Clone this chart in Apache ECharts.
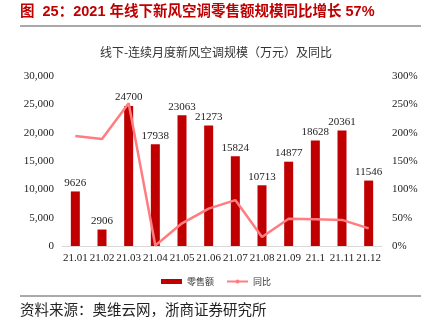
<!DOCTYPE html>
<html>
<head>
<meta charset="utf-8">
<script src="https://cdn.jsdelivr.net/npm/echarts@6/dist/echarts.min.js"></script>
<style>
html,body{margin:0;padding:0;background:#fff;}
#c{width:432px;height:327px;}
</style>
</head>
<body>
<div id="c"></div>
<script>
var categories = ['21.01','21.02','21.03','21.04','21.05','21.06','21.07','21.08','21.09','21.1','21.11','21.12'];
var salesValues = [9626, 2906, 24700, 17938, 23063, 21273, 15824, 10713, 14877, 18628, 20361, 11546];
var yoyValues = [194, 189, 252, 1, 40, 66, 81, 16, 48, 47, 46, 31];
var leftTicks = {min: 0, max: 30000, interval: 5000};
var rightTicks = {min: 0, max: 300, interval: 50};

var serif = '"Liberation Serif", "Times New Roman", serif';
var cjk = '"Noto Sans CJK SC", sans-serif';

var chart = echarts.init(document.getElementById('c'), null, {renderer: 'canvas'});
chart.setOption({
  animation: false,
  backgroundColor: '#fff',
  graphic: [
    {type: 'text', left: 20, top: 5, style: {text: '图  25：2021 年线下新风空调零售额规模同比增长 57%', fill: '#C00000', font: 'bold 14.5px "Liberation Sans", "Noto Sans CJK SC", sans-serif'}},
    {type: 'line', shape: {x1: 20, y1: 26, x2: 421, y2: 26}, style: {stroke: '#555', lineWidth: 1}},
    {type: 'text', left: 'center', top: 46, style: {text: '线下-连续月度新风空调规模（万元）及同比', fill: '#333', font: '12px ' + cjk}},
    {type: 'line', shape: {x1: 20, y1: 296, x2: 421, y2: 296}, style: {stroke: '#555', lineWidth: 1}},
    {type: 'text', left: 20, top: 302, style: {text: '资料来源：奥维云网，浙商证券研究所', fill: '#222', font: '14.5px ' + cjk}}
  ],
  legend: {
    left: 'center',
    top: 272,
    itemWidth: 21,
    itemHeight: 5,
    itemGap: 12,
    textStyle: {fontSize: 9, color: '#333', fontFamily: cjk},
    data: [
      {name: '零售额', icon: 'rect'},
      {name: '同比'}
    ]
  },
  grid: {left: 62, right: 50, top: 76, bottom: 81},
  xAxis: {
    type: 'category',
    data: categories,
    axisLine: {lineStyle: {color: '#d9d9d9'}},
    axisTick: {show: false},
    axisLabel: {color: '#222', fontSize: 11, fontFamily: serif, margin: 7, interval: 0}
  },
  yAxis: [
    {
      type: 'value', min: leftTicks.min, max: leftTicks.max, interval: leftTicks.interval,
      splitLine: {show: false},
      axisLine: {show: false}, axisTick: {show: false},
      axisLabel: {color: '#222', fontSize: 11, fontFamily: serif, margin: 8,
        formatter: function (v) { return v.toLocaleString('en-US'); }}
    },
    {
      type: 'value', min: rightTicks.min, max: rightTicks.max, interval: rightTicks.interval,
      splitLine: {show: false},
      axisLine: {show: false}, axisTick: {show: false},
      axisLabel: {color: '#222', fontSize: 11, fontFamily: serif, margin: 10, formatter: '{value}%'}
    }
  ],
  series: [
    {
      name: '零售额',
      type: 'bar',
      data: salesValues,
      barWidth: 9,
      itemStyle: {color: '#C00000'},
      label: {show: true, position: 'top', color: '#222', fontSize: 11, fontFamily: serif, distance: 3}
    },
    {
      name: '同比',
      type: 'line',
      yAxisIndex: 1,
      data: yoyValues,
      symbol: 'none',
      lineStyle: {color: '#FF7C80', width: 2.5},
      itemStyle: {color: '#FF7C80'}
    }
  ]
});
</script>
</body>
</html>
